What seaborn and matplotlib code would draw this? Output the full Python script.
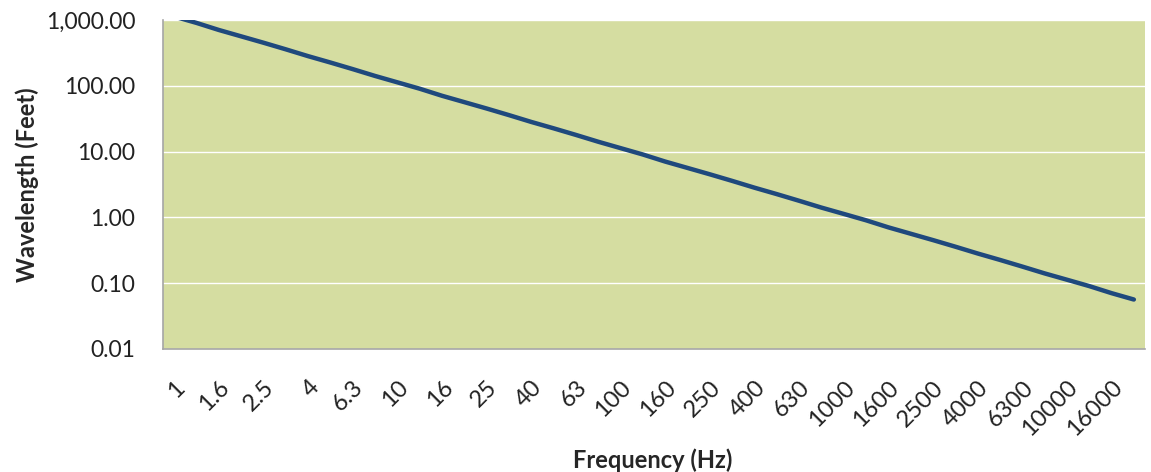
import pandas as pd
import matplotlib
matplotlib.use("Agg")
import matplotlib.pyplot as plt
import seaborn as sns
from matplotlib.ticker import FixedLocator, FuncFormatter

sns.set_style("white")
plt.rcParams['font.family'] = ['Lato', 'DejaVu Sans']

# 1/3 octave band centre frequencies (Hz)
frecuencias = ['1', '1.25', '1.6', '2', '2.5', '3.15', '4', '5', '6.3', '8',
               '10', '12.5', '16', '20', '25', '31.5', '40', '50', '63', '80',
               '100', '125', '160', '200', '250', '315', '400', '500', '630', '800',
               '1000', '1250', '1600', '2000', '2500', '3150', '4000', '5000', '6300', '8000',
               '10000', '12500', '16000', '20000']

# wavelength in feet
longitud = [1130, 904, 706, 565, 452, 358.7, 282.5, 226, 179.4, 141.3,
            113, 90.4, 70.6, 56.5, 45.2, 35.87, 28.25, 22.6, 17.94, 14.13,
            11.3, 9.04, 7.06, 5.65, 4.52, 3.59, 2.83, 2.26, 1.79, 1.41,
            1.13, 0.904, 0.706, 0.565, 0.452, 0.359, 0.283, 0.226, 0.179, 0.141,
            0.113, 0.0904, 0.0706, 0.0565]

df = pd.DataFrame({'freq': frecuencias, 'wavelength': longitud})
df['pos'] = range(len(df))

fig = plt.figure(figsize=(11.51, 4.72), dpi=100)
ax = fig.add_axes([0.1416, 0.2606, 0.8532, 0.697])
ax.set_facecolor('#D5DDA1')

sns.lineplot(data=df, x='pos', y='wavelength', color='#1F497D', linewidth=3.2,
             ax=ax, solid_capstyle='round')

ax.set_yscale('log')
ax.set_ylim(0.01, 1000)
ax.set_xlim(-0.5, len(df) - 0.5)

# y axis
decadas = [0.01, 0.1, 1, 10, 100, 1000]
ax.yaxis.set_major_locator(FixedLocator(decadas))
ax.yaxis.set_minor_locator(FixedLocator([]))
ax.yaxis.set_major_formatter(FuncFormatter(lambda v, p: f'{v:,.2f}'))
ax.grid(axis='y', color='white', linewidth=1.0)
ax.set_axisbelow(True)

# x axis: labels on every other category, tick marks between categories
ax.set_xticks(df['pos'][::2])
ax.set_xticklabels(df['freq'][::2], rotation=45, ha='right', va='top',
                   rotation_mode='anchor')
ax.set_xticks([p - 0.5 for p in range(len(df) + 1)], minor=True)
ax.tick_params(axis='x', which='major', length=0, pad=20, labelsize=17, colors='#222222')
ax.tick_params(axis='x', which='minor', length=8, width=1.2, color='#A6A6A6')
ax.tick_params(axis='y', which='major', length=8, width=1.2, color='#A6A6A6',
               labelsize=16.5, labelcolor='#222222', pad=12)

for lado in ['top', 'right']:
    ax.spines[lado].set_visible(False)
for lado in ['left', 'bottom']:
    ax.spines[lado].set_color('#A6A6A6')
    ax.spines[lado].set_linewidth(1.2)

ax.set_xlabel('Frequency (Hz)', fontsize=17, fontweight='bold', va='center')
ax.set_ylabel('Wavelength (Feet)', fontsize=17, fontweight='bold', va='center')
ax.xaxis.set_label_coords(0.499, -0.337)
ax.yaxis.set_label_coords(-0.1385, 0.5)

fig.savefig('out.png', dpi=100)
